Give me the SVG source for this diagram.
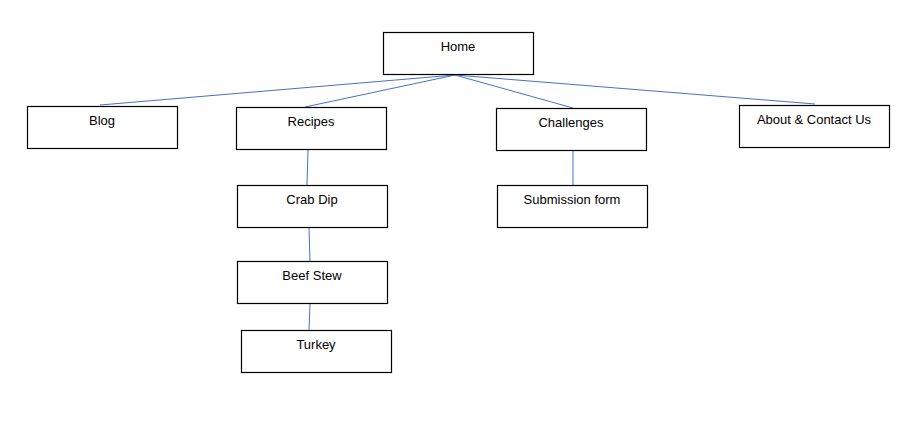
<svg xmlns="http://www.w3.org/2000/svg" width="924" height="429" viewBox="0 0 924 429">
<style>
.box{fill:#fff;stroke:#000;stroke-width:1.2}
.lbl{font-family:"Liberation Sans",Arial,sans-serif;font-size:13px;fill:#000;text-anchor:middle}
.conn line{stroke:#4472C4;stroke-width:1}
</style>
<rect width="924" height="429" fill="#fff"/>
<g class="conn">
<line x1="455" y1="75" x2="100" y2="105"/>
<line x1="455" y1="75" x2="305" y2="107"/>
<line x1="455" y1="75" x2="573" y2="108"/>
<line x1="455" y1="75" x2="815" y2="104"/>
<line x1="308" y1="150" x2="307" y2="185"/>
<line x1="309" y1="228" x2="310" y2="261"/>
<line x1="310" y1="304" x2="309" y2="330"/>
<line x1="573" y1="151" x2="573" y2="185"/>
</g>
<g id="home"><rect class="box" x="383.5" y="32.5" width="150" height="42"/><text class="lbl" x="458" y="51">Home</text></g>
<g id="blog"><rect class="box" x="27.5" y="106.5" width="150" height="42"/><text class="lbl" x="102" y="125">Blog</text></g>
<g id="recipes"><rect class="box" x="236.5" y="107.5" width="150" height="42"/><text class="lbl" x="311" y="126">Recipes</text></g>
<g id="challenges"><rect class="box" x="496.5" y="108.5" width="150" height="42"/><text class="lbl" x="571" y="127">Challenges</text></g>
<g id="about"><rect class="box" x="739.5" y="105.5" width="150" height="42"/><text class="lbl" x="814" y="124">About &amp; Contact Us</text></g>
<g id="submission"><rect class="box" x="497.5" y="185.5" width="150" height="42"/><text class="lbl" x="572" y="204">Submission form</text></g>
<g id="crabdip"><rect class="box" x="237.5" y="185.5" width="150" height="42"/><text class="lbl" x="312" y="204">Crab Dip</text></g>
<g id="beefstew"><rect class="box" x="237.5" y="261.5" width="150" height="42"/><text class="lbl" x="312" y="280">Beef Stew</text></g>
<g id="turkey"><rect class="box" x="241.5" y="330.5" width="150" height="42"/><text class="lbl" x="316" y="349">Turkey</text></g>
</svg>
